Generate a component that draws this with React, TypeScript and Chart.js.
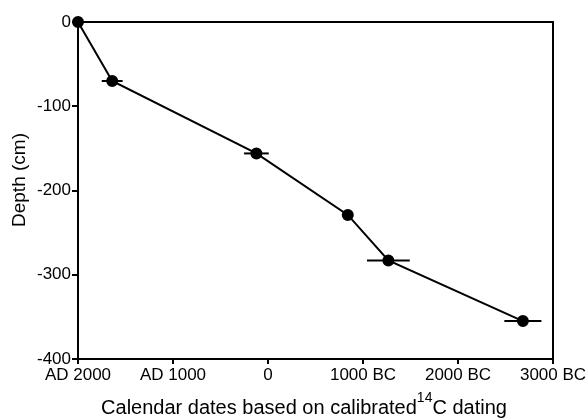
import React, { useEffect, useRef } from "react";
import { Chart, registerables } from "chart.js";

Chart.register(...registerables);

// x value = years before AD 2000 (AD 2000 -> 0, 0 -> 2000, 3000 BC -> 5000)
const ageValues = [0, 360, 1878, 2840, 3267, 4683];
const depthValues = [0, -70, -156, -229, -283, -355];
const ageErrors = [0, 110, 130, 40, 225, 195];
const xTickLabels = ["AD 2000", "AD 1000", "0", "1000 BC", "2000 BC", "3000 BC"];
const yTitle = "Depth (cm)";
const xTitleParts = ["Calendar dates based on calibrated", "14", "C dating"];

const FONT = "'Liberation Sans', Arial, Helvetica, sans-serif";

const errorBarPlugin = {
  id: "errorBars",
  beforeDatasetsDraw(chart: any) {
    const ctx = chart.ctx;
    const xs = chart.scales.x;
    const ys = chart.scales.y;
    ctx.save();
    ctx.strokeStyle = "#000";
    ctx.lineWidth = 2;
    ageValues.forEach((v, i) => {
      const e = ageErrors[i];
      if (!e) return;
      const y = ys.getPixelForValue(depthValues[i]);
      ctx.beginPath();
      ctx.moveTo(xs.getPixelForValue(v - e), y);
      ctx.lineTo(xs.getPixelForValue(v + e), y);
      ctx.stroke();
    });
    ctx.restore();
  },
};

const framePlugin = {
  id: "frame",
  beforeDatasetsDraw(chart: any) {
    const { ctx, chartArea } = chart;
    ctx.save();
    ctx.strokeStyle = "#000";
    ctx.lineWidth = 2;
    ctx.beginPath();
    ctx.moveTo(chartArea.left, chartArea.top);
    ctx.lineTo(chartArea.right, chartArea.top);
    ctx.lineTo(chartArea.right, chartArea.bottom);
    ctx.stroke();
    ctx.restore();
  },
};

const titlesPlugin = {
  id: "titles",
  afterDraw(chart: any) {
    const ctx = chart.ctx;
    const [main1, sup, main2] = xTitleParts;
    ctx.save();
    ctx.fillStyle = "#000";
    ctx.textBaseline = "alphabetic";
    ctx.textAlign = "left";
    ctx.font = `20px ${FONT}`;
    const w1 = ctx.measureText(main1).width;
    const w3 = ctx.measureText(main2).width;
    ctx.font = `14px ${FONT}`;
    const w2 = ctx.measureText(sup).width;
    const total = w1 + w2 + w3;
    const cx = 304;
    const baseY = 414;
    let x = cx - total / 2;
    ctx.font = `20px ${FONT}`;
    ctx.fillText(main1, x, baseY);
    x += w1;
    ctx.font = `14px ${FONT}`;
    ctx.fillText(sup, x, baseY - 12);
    x += w2;
    ctx.font = `20px ${FONT}`;
    ctx.fillText(main2, x, baseY);

    // y axis title
    ctx.translate(20, 180);
    ctx.rotate(-Math.PI / 2);
    ctx.textAlign = "center";
    ctx.textBaseline = "middle";
    ctx.font = `19px ${FONT}`;
    ctx.fillText(yTitle, 0, 0);
    ctx.restore();
  },
};

export default function App() {
  const ref = useRef<HTMLCanvasElement>(null);
  useEffect(() => {
    if (!ref.current) return;
    const chart = new Chart(ref.current, {
      type: "line",
      data: {
        datasets: [
          {
            data: ageValues.map((v, i) => ({ x: v, y: depthValues[i] })),
            borderColor: "#000",
            backgroundColor: "#000",
            borderWidth: 2,
            pointRadius: 5,
            pointHoverRadius: 5,
            pointBackgroundColor: "#000",
            pointBorderColor: "#000",
            fill: false,
            tension: 0,
            clip: false,
          } as any,
        ],
      },
      options: {
        animation: false,
        responsive: false,
        devicePixelRatio: 1,
        layout: { padding: { top: 22, right: 35, left: 0, bottom: 0 } },
        plugins: {
          legend: { display: false },
          tooltip: { enabled: false },
        },
        scales: {
          x: {
            type: "linear",
            min: 0,
            max: 5000,
            afterFit: (s: any) => {
              s.height = 59;
            },
            ticks: {
              stepSize: 1000,
              color: "#000",
              font: { size: 17, family: FONT },
              padding: 1,
              maxRotation: 0,
              autoSkip: false,
              callback: (v: any) => xTickLabels[Math.round(Number(v) / 1000)] ?? "",
            },
            grid: { drawOnChartArea: false, drawTicks: true, tickLength: 5, color: "#000", lineWidth: 2 },
            border: { color: "#000", width: 2 },
          },
          y: {
            type: "linear",
            min: -400,
            max: 0,
            afterFit: (s: any) => {
              s.width = 78;
            },
            ticks: {
              stepSize: 100,
              color: "#000",
              font: { size: 17, family: FONT },
              padding: 1,
            },
            grid: { drawOnChartArea: false, drawTicks: true, tickLength: 6, color: "#000", lineWidth: 2 },
            border: { color: "#000", width: 2 },
          },
        },
      },
      plugins: [errorBarPlugin, framePlugin, titlesPlugin],
    });
    return () => chart.destroy();
  }, []);
  return (
    <div style={{ position: "fixed", left: 0, top: 0, width: 588, height: 418, background: "#fff" }}>
      <canvas ref={ref} width={588} height={418} style={{ display: "block", width: 588, height: 418 }} />
    </div>
  );
}
